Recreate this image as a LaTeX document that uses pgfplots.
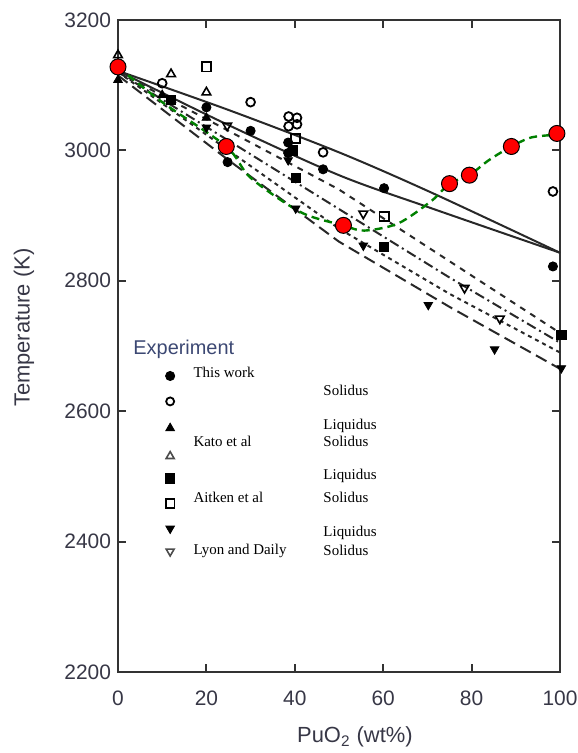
\documentclass[border=0pt]{standalone}
\usepackage{fontspec}
\setmainfont{Liberation Serif}
\setsansfont{Liberation Sans}
\usepackage{pgfplots}
\pgfplotsset{compat=1.18}
\definecolor{lblcol}{RGB}{55,55,70}
\definecolor{expcol}{RGB}{60,72,115}
\definecolor{ptgreen}{RGB}{0,128,0}
\definecolor{linecol}{RGB}{40,40,40}

\begin{document}
\begin{tikzpicture}[x=1bp,y=1bp]
\useasboundingbox (0,0) rectangle (289,376.5);
\begin{axis}[
  at={(59bp,40.5bp)}, anchor=south west,
  width=221bp, height=326bp, scale only axis,
  xmin=0, xmax=100, ymin=2200, ymax=3200,
  xtick={0,20,...,100}, ytick={2200,2400,...,3200},
  tick align=inside, major tick length=4bp,
  axis line style={line width=1bp, black!80},
  every tick/.style={line width=1bp, black!80},
  tick label style={font=\sffamily\fontsize{10.5}{12}\selectfont, text=lblcol},
  xticklabel style={yshift=-6bp},
  /pgf/number format/assume math mode=true,
  /pgf/number format/set thousands separator={},
  xlabel={PuO\textsubscript{2} (wt\%)},
  ylabel={Temperature (K)},
  label style={font=\sffamily\fontsize{11}{13}\selectfont, text=lblcol},
  x label style={at={(axis description cs:0.536,-0.1)}, anchor=center},
  y label style={at={(axis description cs:-0.213,0.528)}, anchor=center, rotate=0},
  clip=false,
]
% solid lines
\addplot[linecol, line width=1bp, smooth] coordinates {(0,3122) (25,3062) (50,2997) (71,2935) (100,2843)};
\addplot[linecol, line width=1bp, smooth] coordinates {(0,3122) (24,3042) (50,2962) (71,2911) (100,2843)};
% dashed lines
\addplot[linecol, line width=1bp, dashed] coordinates {(0,3120) (25,3030) (50,2940) (75,2830) (100,2720)};
\addplot[linecol, line width=1bp, dash pattern=on 5bp off 2bp on 1bp off 2bp] coordinates {(0,3120) (25,3015) (50,2910) (75,2805) (100,2705)};
\addplot[linecol, line width=1bp, dash pattern=on 2bp off 2bp] coordinates {(0,3120) (25,3000) (50,2880) (75,2780) (100,2690)};
\addplot[linecol, line width=1bp, dash pattern=on 6bp off 3bp] coordinates {(0,3115) (25,2985) (50,2860) (75,2760) (100,2665)};
% This work solidus (filled circle)
\addplot[only marks, mark=*, mark size=2.3bp, black] coordinates {(20,3066) (30,3030) (38.5,3012) (38.5,2996) (46.4,2971) (60.2,2942) (98.4,2822) (24.8,2982)};
% This work liquidus (open circle)
\addplot[only marks, mark=o, mark size=2.2bp, black, line width=0.9bp] coordinates {(10,3103) (30,3074) (38.6,3052) (40.5,3050) (38.6,3037) (40.5,3040) (46.4,2997) (98.4,2937)};
% Kato solidus (filled triangle)
\addplot[only marks, mark=triangle*, mark size=2.5bp, black] coordinates {(0,3108) (10,3085) (20,3050)};
% Kato liquidus (open triangle)
\addplot[only marks, mark=triangle, mark size=2.5bp, black, line width=0.8bp] coordinates {(0,3146) (12,3117) (20,3089)};
% Aitken solidus (filled square)
\addplot[only marks, mark=square*, mark size=2.3bp, black] coordinates {(12,3077) (39.5,3000) (40.2,2958) (60.2,2852) (100.3,2717)};
% Aitken liquidus (open square)
\addplot[only marks, mark=square, mark size=2.3bp, black, line width=0.9bp] coordinates {(20,3128) (40.2,3018) (60.2,2899)};
% Lyon solidus (filled down triangle)
\addplot[only marks, mark=triangle*, mark options={rotate=180}, mark size=2.5bp, black] coordinates {(20,3035) (38.5,2985) (40.2,2911) (55.5,2854) (70.2,2763) (85.2,2695) (100.3,2666)};
% Lyon liquidus (open down triangle)
\addplot[only marks, mark=triangle, mark options={rotate=180}, mark size=2.5bp, black, line width=0.8bp] coordinates {(24.7,3038) (55.5,2903) (78.4,2789) (86.4,2742)};
% red points and green curve
\addplot[only marks, mark=*, mark size=4bp, mark options={fill=red, draw=black, line width=0.5bp}] coordinates {(0,3128) (24.5,3006) (51,2885) (75,2949) (79.5,2962) (89,3006) (99.3,3026)};
\addplot[ptgreen, line width=1.2bp, dash pattern=on 4bp off 2.5bp, smooth] coordinates {(0,3128) (10,3074) (24.5,3006) (30,2958) (41.4,2905) (51,2885) (55.7,2877) (63.4,2888) (71,2923) (75,2949) (79.5,2962) (83.9,2985) (89,3006) (93.6,3020) (99.3,3024)};
% legend markers
\addplot[only marks, mark=*, mark size=2.3bp, black] coordinates {(11.8,2654)};
\addplot[only marks, mark=o, mark size=2.0bp, black, line width=0.9bp] coordinates {(11.8,2615)};
\addplot[only marks, mark=triangle*, mark size=2.5bp, black] coordinates {(11.8,2574)};
\addplot[only marks, mark=triangle, mark size=2.3bp, black!70, line width=0.8bp] coordinates {(11.8,2531)};
\addplot[only marks, mark=square*, mark size=2.3bp, black] coordinates {(11.8,2497)};
\addplot[only marks, mark=square, mark size=2.2bp, black, line width=0.9bp] coordinates {(11.8,2458)};
\addplot[only marks, mark=triangle*, mark options={rotate=180}, mark size=2.5bp, black] coordinates {(11.8,2420)};
\addplot[only marks, mark=triangle, mark options={rotate=180}, mark size=2.3bp, black!70, line width=0.8bp] coordinates {(11.8,2385)};
% legend texts
\node[anchor=west, inner sep=0pt, font=\sffamily\fontsize{10}{12}\selectfont, text=expcol] at (axis cs:3.4,2695) {Experiment};
\begin{scope}[every node/.style={anchor=west, inner sep=0pt, font=\fontsize{7.5}{9}\selectfont}]
\node at (axis cs:17,2660) {This work};
\node at (axis cs:17,2554) {Kato et al};
\node at (axis cs:17,2468) {Aitken et al};
\node at (axis cs:17,2386) {Lyon and Daily};
\node at (axis cs:46.4,2632) {Solidus};
\node at (axis cs:46.4,2578) {Liquidus};
\node at (axis cs:46.4,2554) {Solidus};
\node at (axis cs:46.4,2500) {Liquidus};
\node at (axis cs:46.4,2468) {Solidus};
\node at (axis cs:46.4,2414) {Liquidus};
\node at (axis cs:46.4,2386) {Solidus};
\end{scope}
\end{axis}
\end{tikzpicture}
\end{document}
